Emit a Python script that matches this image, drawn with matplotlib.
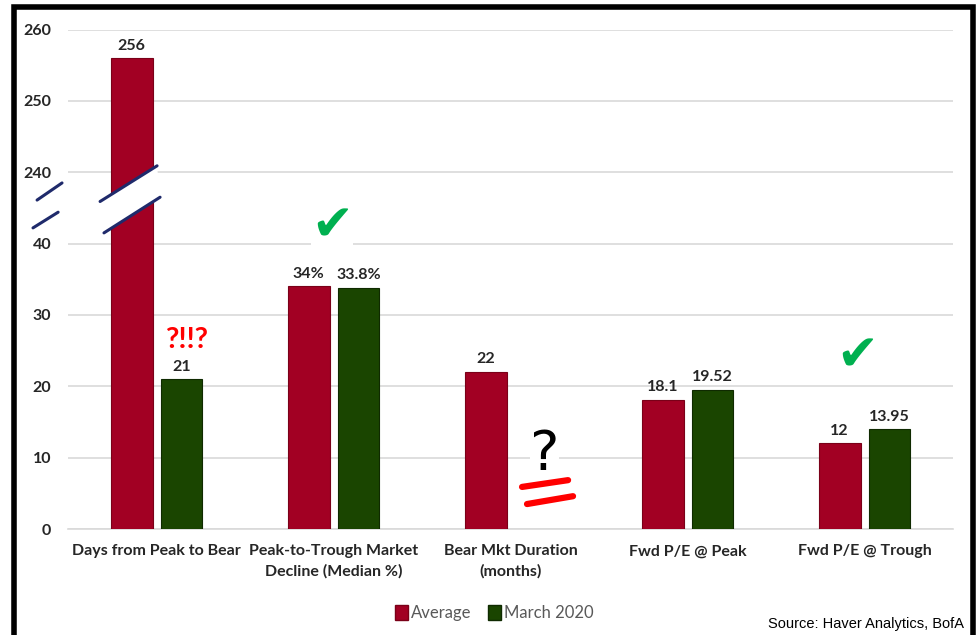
import numpy as np
import matplotlib
matplotlib.use("Agg")
import matplotlib.pyplot as plt
from matplotlib.patches import Rectangle, Polygon

plt.rcParams['font.family'] = ['Lato', 'DejaVu Sans']

# data
categories = ["Days from Peak to Bear", "Peak-to-Trough Market\nDecline (Median %)",
              "Bear Mkt Duration\n(months)", "Fwd P/E @ Peak", "Fwd P/E @ Trough"]
average = [256, 34, 22, 18.1, 12]
march_2020 = [21, 33.8, None, 19.52, 13.95]
average_labels = ["256", "34%", "22", "18.1", "12"]
march_labels = ["21", "33.8%", "", "19.52", "13.95"]
tick_values = [0, 10, 20, 30, 40, 240, 250, 260]

BREAK_LOW, BREAK_HIGH = 40, 240
GAP = BREAK_HIGH - BREAK_LOW - 10   # 240 sits one grid step above 40


def to_axis(v):
    # squeeze the broken part of the axis
    return v if v <= BREAK_LOW else v - GAP


RED = '#a20023'
GREEN = '#1a4500'
NAVY = '#1f2a6b'

fig = plt.figure(figsize=(9.79, 6.35), dpi=100)
ax = fig.add_axes([0.0695, 0.1669, 0.904, 0.7866])

x = np.arange(len(categories))
w = 0.237
off = 0.141

for i in x:
    h = to_axis(average[i])
    ax.bar(i - off, h, w, color=RED, edgecolor='#7a0018', linewidth=0.8, zorder=3)
    ax.annotate(average_labels[i], (i - off, h), xytext=(0, 4), textcoords='offset points',
                ha='center', va='bottom', fontsize=11.5, fontweight='bold', color='#262626')
    if march_2020[i] is not None:
        h2 = to_axis(march_2020[i])
        ax.bar(i + off, h2, w, color=GREEN, edgecolor='#0f2a00', linewidth=0.8, zorder=3)
        ax.annotate(march_labels[i], (i + off, h2), xytext=(0, 4), textcoords='offset points',
                    ha='center', va='bottom', fontsize=11.5, fontweight='bold', color='#262626')

ticks_pos = [to_axis(t) for t in tick_values]
ax.set_yticks(ticks_pos)
ax.set_yticklabels([str(t) for t in tick_values], fontsize=11.5, fontweight='bold', color='#262626')
ax.set_ylim(0, 70)
ax.set_xlim(-0.5, len(categories) - 0.5)
ax.set_xticks(x)
ax.set_xticklabels(categories, fontsize=11.5, fontweight='bold', color='#262626', linespacing=1.5)
ax.tick_params(axis='y', length=0, pad=12)
ax.tick_params(axis='x', length=0, pad=11)
ax.grid(axis='y', color='#d9d9d9', linewidth=1.2, zorder=0)
for s in ['top', 'right', 'left']:
    ax.spines[s].set_visible(False)
ax.spines['bottom'].set_color('#d9d9d9')
ax.spines['bottom'].set_linewidth(1.2)

# axis break across the tall bar
bx = 0 - off
up = [[bx - 0.178, 45.9], [bx + 0.144, 50.9]]
lo = [[bx - 0.156, 41.5], [bx + 0.161, 46.5]]
band = Polygon([up[0], up[1], lo[1], lo[0]], closed=True, facecolor='white', edgecolor='none', zorder=4)
ax.add_patch(band)
for seg in (up, lo):
    ax.plot([seg[0][0], seg[1][0]], [seg[0][1], seg[1][1]], color=NAVY, lw=2.2, zorder=5,
            solid_capstyle='round')
# break marks on the axis
ax.plot([-0.675, -0.534], [46.1, 48.5], color=NAVY, lw=2.2, zorder=5, clip_on=False, solid_capstyle='round')
ax.plot([-0.698, -0.556], [42.2, 44.4], color=NAVY, lw=2.2, zorder=5, clip_on=False, solid_capstyle='round')

# hand-drawn style remarks
ax.text(0 + off + 0.03, 21 + 3.6, "?!!?", color='#ff0000', fontsize=21, fontweight='bold',
        ha='center', va='bottom', zorder=5)
ax.text(1 - 0.01, 39.0, "\u2714", family='DejaVu Sans', color='#00b050', fontsize=36, ha='center',
        va='bottom', zorder=5, bbox=dict(facecolor='white', edgecolor='none', pad=0))
ax.text(4 - 0.04, 20.8, "\u2714", family='DejaVu Sans', color='#00b050', fontsize=36, ha='center',
        va='bottom', zorder=5)
ax.text(2 + off + 0.05, 6.6, "?", family='DejaVu Sans', color='black', fontsize=40, ha='center',
        va='bottom', zorder=5, bbox=dict(facecolor='white', edgecolor='none', pad=0))
ax.plot([2.065, 2.325], [5.9, 6.85], color='#ff0000', lw=4.5, zorder=5, solid_capstyle='round')
ax.plot([2.093, 2.353], [3.5, 4.6], color='#ff0000', lw=4.5, zorder=5, solid_capstyle='round')

# legend
handles = [Rectangle((0, 0), 1, 1, facecolor=RED, edgecolor='#7a0018'),
           Rectangle((0, 0), 1, 1, facecolor=GREEN, edgecolor='#0f2a00')]
leg = fig.legend(handles, ['Average', 'March 2020'], loc='center', bbox_to_anchor=(0.505, 0.034),
                 ncol=2, frameon=False, fontsize=12, handlelength=0.75, handleheight=1.0,
                 handletextpad=0.2, columnspacing=1.0)
for t in leg.get_texts():
    t.set_color('#595959')

fig.text(0.985, 0.006, "Source: Haver Analytics, BofA", ha='right', va='bottom', fontsize=10.5,
         color='black', family='Liberation Sans')

# outer frame
fig.patches.append(Rectangle((0.0143, -0.05), 0.9796, 1.039, transform=fig.transFigure,
                             fill=False, edgecolor='black', linewidth=4))

fig.savefig('out.png', dpi=100)
